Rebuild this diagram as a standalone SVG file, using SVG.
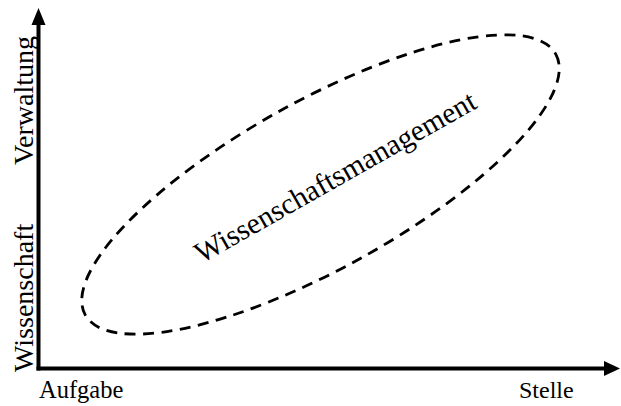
<svg xmlns="http://www.w3.org/2000/svg" width="621" height="406" viewBox="0 0 621 406">
<style>
.lbl{font-family:"Liberation Serif","Times New Roman",serif;fill:#000}
.axis{stroke:#000;stroke-width:4;fill:none}
.head{fill:#000}
.ell{fill:none;stroke:#000;stroke-width:2.8;stroke-dasharray:11 7.5}
</style>
<rect width="621" height="406" fill="#fff"/>
<g id="connectors">
<line class="axis" x1="38.5" y1="370.5" x2="38.5" y2="22"/>
<polygon class="head" points="38.5,8 31.5,25 45.5,25"/>
<line class="axis" x1="36.5" y1="368.5" x2="606" y2="368.5"/>
<polygon class="head" points="620,368.5 604,361 604,376"/>
</g>
<g id="ellipse-node">
<ellipse class="ell" cx="320.5" cy="184.5" rx="269" ry="84" transform="rotate(-29 320.5 184.5)"/>
<text class="lbl" font-size="29.5" text-anchor="middle" transform="translate(340 185.5) rotate(-29.5)">Wissenschaftsmanagement</text>
</g>
<g id="labels">
<text class="lbl" font-size="24.5" x="39" y="398">Aufgabe</text>
<text class="lbl" font-size="24" x="519" y="398">Stelle</text>
<text class="lbl" font-size="28" transform="translate(33 165) rotate(-90)">Verwaltung</text>
<text class="lbl" font-size="28" transform="translate(33 372) rotate(-90)">Wissenschaft</text>
</g>
</svg>
